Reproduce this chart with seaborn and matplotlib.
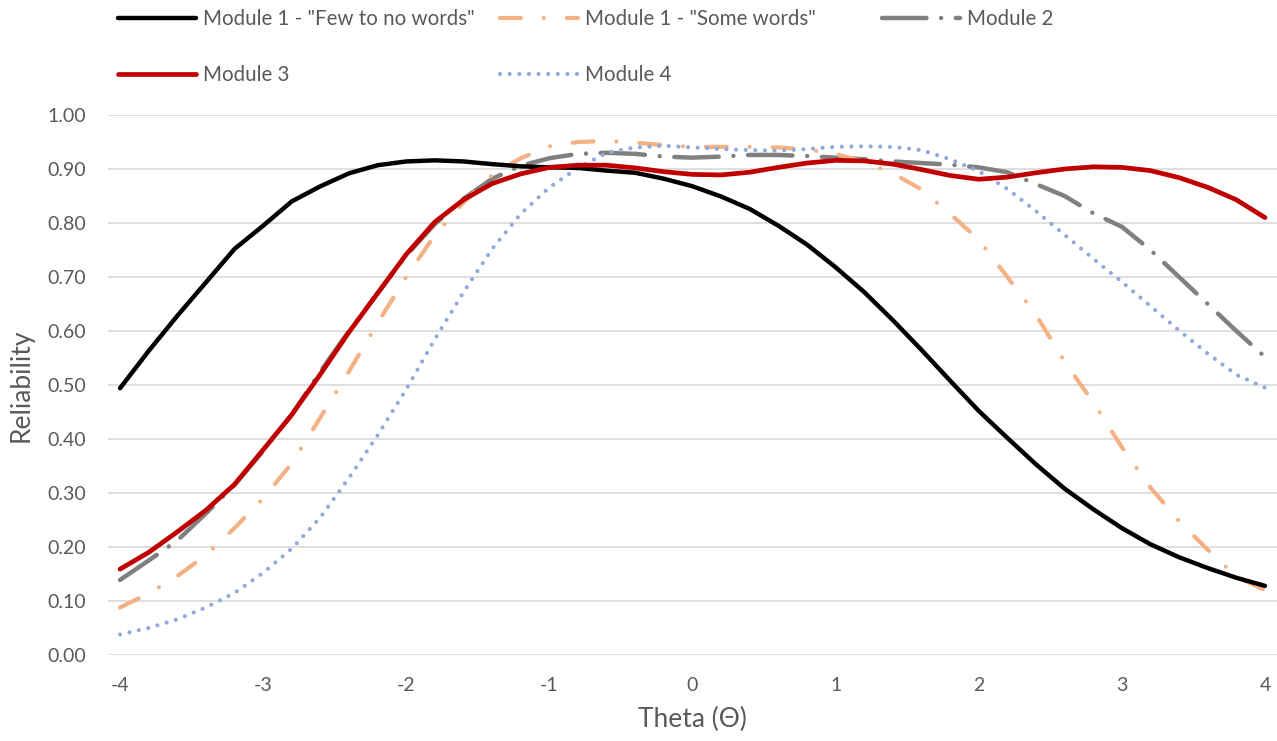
import numpy as np
import pandas as pd
import seaborn as sns
import matplotlib.pyplot as plt
from matplotlib.lines import Line2D

sns.set_theme(style="white")
plt.rcParams['font.family'] = ['Lato', 'DejaVu Sans']
plt.rcParams['axes.unicode_minus'] = False

# theta grid (step 0.2)
theta = [round(-4 + 0.2 * i, 1) for i in range(41)]

few_words = [0.494, 0.563, 0.628, 0.690, 0.752, 0.795, 0.840, 0.868, 0.892, 0.907,
             0.914, 0.916, 0.914, 0.909, 0.905, 0.903, 0.902, 0.897, 0.893, 0.882,
             0.868, 0.849, 0.826, 0.795, 0.760, 0.718, 0.672, 0.620, 0.565, 0.508,
             0.452, 0.402, 0.353, 0.308, 0.270, 0.235, 0.205, 0.181, 0.161, 0.143,
             0.128]
some_words = [0.088, 0.114, 0.146, 0.185, 0.235, 0.290, 0.355, 0.440, 0.525, 0.615,
              0.700, 0.778, 0.838, 0.889, 0.920, 0.942, 0.950, 0.952, 0.949, 0.944,
              0.941, 0.941, 0.941, 0.940, 0.936, 0.928, 0.913, 0.892, 0.862, 0.817,
              0.769, 0.700, 0.630, 0.543, 0.468, 0.385, 0.310, 0.248, 0.195, 0.145,
              0.120]
module2 = [0.139, 0.175, 0.212, 0.262, 0.315, 0.378, 0.445, 0.525, 0.600, 0.670,
           0.740, 0.798, 0.845, 0.882, 0.906, 0.920, 0.928, 0.930, 0.928, 0.923,
           0.921, 0.923, 0.926, 0.926, 0.924, 0.921, 0.918, 0.914, 0.911, 0.908,
           0.903, 0.894, 0.872, 0.850, 0.818, 0.793, 0.750, 0.700, 0.650, 0.600,
           0.552]
module3 = [0.159, 0.190, 0.228, 0.268, 0.316, 0.380, 0.445, 0.520, 0.598, 0.670,
           0.742, 0.802, 0.843, 0.873, 0.891, 0.903, 0.907, 0.907, 0.902, 0.895,
           0.890, 0.889, 0.894, 0.903, 0.911, 0.916, 0.915, 0.909, 0.899, 0.888,
           0.881, 0.885, 0.893, 0.900, 0.904, 0.903, 0.897, 0.884, 0.866, 0.843,
           0.810]
module4 = [0.038, 0.050, 0.066, 0.088, 0.115, 0.152, 0.197, 0.255, 0.328, 0.407,
           0.492, 0.585, 0.672, 0.752, 0.817, 0.866, 0.902, 0.930, 0.940, 0.943,
           0.940, 0.937, 0.935, 0.934, 0.937, 0.941, 0.942, 0.941, 0.935, 0.918,
           0.896, 0.863, 0.822, 0.778, 0.734, 0.691, 0.646, 0.601, 0.558, 0.519,
           0.495]

labels = ['Module 1 - "Few to no words"', 'Module 1 - "Some words"', 'Module 2',
          'Module 3', 'Module 4']
series = [few_words, some_words, module2, module3, module4]
colors = ['#000000', '#F4B183', '#808080', '#C00000', '#8FAADC']
widths = [3.2, 3.0, 3.2, 3.4, 3.0]
styles = ['-', (0, (5.0, 5.5, 0.01, 5.5)), (0, (10.0, 3.3, 0.01, 3.3)), '-', (0, (0.01, 2.3))]
order = [2, 1, 4, 0, 3]  # drawing order, back to front

fig = plt.figure(figsize=(12.77, 7.41), dpi=100)
ax = fig.add_axes([108 / 1277, (741 - 655) / 741, (1277 - 108) / 1277, 540 / 741])

handles = {}
for i in order:
    sns.lineplot(x=theta, y=series[i], ax=ax, color=colors[i], linewidth=widths[i],
                 linestyle=styles[i], dash_capstyle='round', solid_capstyle='round',
                 estimator=None, sort=False)
    handles[i] = Line2D([], [], color=colors[i], linewidth=widths[i], linestyle=styles[i],
                        dash_capstyle='round', solid_capstyle='round')

ax.set_xlim(-4.084, 4.084)
ax.set_ylim(0, 1.0)
ax.set_xticks(range(-4, 5))
ax.set_yticks(np.arange(0, 1.01, 0.1))
ax.set_yticklabels([f'{v:.2f}' for v in np.arange(0, 1.01, 0.1)])
ax.grid(axis='y', color='#D9D9D9', linewidth=1.2)
ax.grid(axis='x', visible=False)
ax.set_axisbelow(True)
for s in ax.spines.values():
    s.set_visible(False)
ax.tick_params(axis='both', length=0, labelsize=14, labelcolor='#595959')
ax.tick_params(axis='x', pad=16)
ax.tick_params(axis='y', pad=16)
ax.set_xlabel('Theta (Θ)', fontsize=19, color='#595959', labelpad=9)
ax.set_ylabel('Reliability', fontsize=19, color='#595959', labelpad=10)

# legend: three columns, two rows, like the reference
cols = [[0, 3], [1, 4], [2]]
xs = [118 / 1277, 500 / 1277, 882 / 1277]
for c, xpos in zip(cols, xs):
    leg = fig.legend([handles[k] for k in c], [labels[k] for k in c],
                     loc='upper left', bbox_to_anchor=(xpos, 0.988),
                     bbox_transform=fig.transFigure, frameon=False, fontsize=14.8,
                     handlelength=3.8, handletextpad=0.35, labelspacing=1.75,
                     borderpad=0, borderaxespad=0)
    for t in leg.get_texts():
        t.set_color('#595959')

fig.savefig('out.png', dpi=100)
